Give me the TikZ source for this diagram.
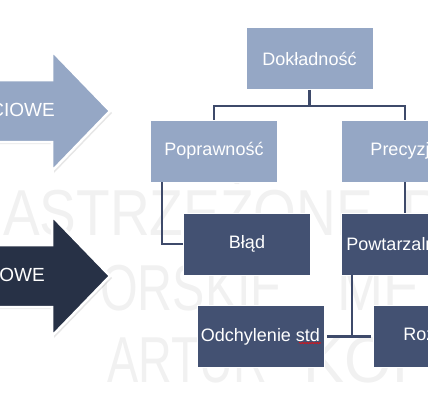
\documentclass[tikz,border=0pt]{standalone}
\usepackage{fontspec}
\setmainfont{Liberation Sans}
\usetikzlibrary{shadows,decorations.pathmorphing}

\definecolor{jasny}{HTML}{95A7C5}
\definecolor{ciemny}{HTML}{435172}
\definecolor{granat}{HTML}{273146}
\definecolor{linia}{HTML}{3E4A6A}
\definecolor{znak}{HTML}{F1F1F1}

\begin{document}
\begin{tikzpicture}[x=1pt,y=-1pt,
  box/.style={draw=white,line width=0.8pt,minimum width=127pt,minimum height=62pt,
    inner sep=0pt,text=white,font=\fontsize{18}{20}\selectfont},
  jbox/.style={box,fill=jasny},
  cbox/.style={box,fill=ciemny},
  lacz/.style={linia,line width=2.6pt},
  strz/.style={draw=white,line width=2.5pt,
    drop shadow={opacity=0.2,shadow xshift=2pt,shadow yshift=-2pt}},
  wm/.style={inner sep=0pt,anchor=base west,text=znak,font=\fontsize{65}{65}\selectfont}]

\useasboundingbox (0,0) rectangle (428,400);
\clip (0,0) rectangle (428,400);

% Watermark
\node[wm] (wm1a) at (3,235) {\resizebox{370pt}{\height}{ASTRZEŻONE}};
\node[wm] (wm1b) at (400,235) {P};
\node[wm] (wm2a) at (100,310) {\resizebox{183pt}{\height}{ORSKIE}};
\node[wm] (wm2b) at (337,310) {\resizebox{83pt}{\height}{ME}};
\node[wm] (wm3a) at (107,382) {\resizebox{160pt}{\height}{ARTUR}};
\node[wm] (wm3b) at (303,382) {\resizebox{130pt}{\height}{KOP}};

% Arrows
\foreach \ay/\kol/\tx/\txt in {111/jasny/55/CIOWE, 276/granat/45/OWE}{
  \filldraw[strz,fill=\kol] (-10,\ay-31) -- (52,\ay-31) -- (52,\ay-60) -- (110,\ay)
    -- (52,\ay+60) -- (52,\ay+31) -- (-10,\ay+31) -- cycle;
  \node[anchor=east,inner sep=0pt,text=white,font=\fontsize{19}{20}\selectfont]
    (napis\ay) at (\tx,\ay-1) {\txt};
}

% Boxes
\node[jbox] (dok) at (309.5,58.5) {Dokładność};
\node[jbox] (pop) at (214,151) {Poprawność};
\node[jbox] (pre) at (405,151) {Precyzja};
\node[cbox] (blad) at (247,244) {Błąd};
\node[cbox] (pow) at (405,244) {Powtarzalność};
\node[cbox] (odch) at (260.5,336.5) {Odchylenie std};
\node[cbox] (roz) at (436.5,336.5) {Rozstęp};

% Connectors
\draw[lacz] (dok.south) -- ++(0,16) -| (pop.north);
\draw[lacz] (dok.south) -- ++(0,16) -| (pre.north);
\draw[lacz] ([xshift=-52pt]pop.south) |- (blad.west);
\draw[lacz] (pre.south) -- (pow.north);
\draw[lacz] ([xshift=-53pt]pow.south) -- ([xshift=-53pt]pow.south |- odch.east);
\draw[lacz] ([xshift=3pt]odch.east) -- ([xshift=-2pt]roz.west);

% Spell-check mark
\draw[red,line width=0.5pt,decorate,
  decoration={snake,amplitude=0.7pt,segment length=2.5pt}] (299,343) -- (321,343);

\end{tikzpicture}
\end{document}
